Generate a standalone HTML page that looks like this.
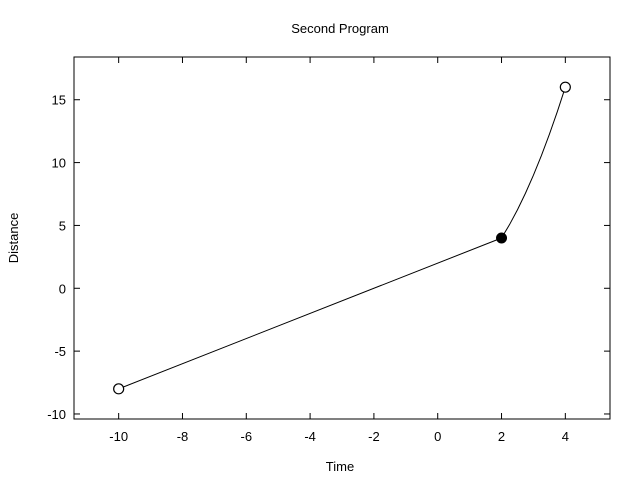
<!DOCTYPE html>
<html><head><meta charset="utf-8"><style>
body{margin:0;background:#fff;}
svg text{font-family:"Liberation Sans",sans-serif;font-size:13px;fill:#000;}
</style></head><body>
<svg id="chart" width="640" height="480" xmlns="http://www.w3.org/2000/svg">
<text x="340" y="33" text-anchor="middle">Second Program</text>
<text x="340" y="471" text-anchor="middle">Time</text>
<text transform="translate(18,238) rotate(-90)" text-anchor="middle">Distance</text>
<g id="plot"></g>
</svg>
<script>
const xTicks=[-10,-8,-6,-4,-2,0,2,4];
const yTicks=[-10,-5,0,5,10,15];
const lineX=[-10,2];
const lineY=[-8,4];
const curveX=[2,2.25,2.5,2.75,3,3.25,3.5,3.75,4];
const curveY=[4,5.06,6.25,7.56,9,10.56,12.25,14.06,16];
const openPts=[[-10,-8],[4,16]];
const filledPts=[[2,4]];
const xMin=-11.4,xMax=5.4,yMin=-10.4,yMax=18.4;
const L=74,R=610,T=57,B=419;
const sx=v=>L+(v-xMin)/(xMax-xMin)*(R-L);
const sy=v=>B-(v-yMin)/(yMax-yMin)*(B-T);
const NS="http://www.w3.org/2000/svg";
const g=document.getElementById('plot');
function mk(t,a){const e=document.createElementNS(NS,t);for(const k in a)e.setAttribute(k,a[k]);g.appendChild(e);return e;}
const frame=mk('rect',{x:L,y:T,width:R-L,height:B-T,fill:'none',stroke:'#000','stroke-width':1});


xTicks.forEach(v=>{const x=sx(v);
 const t1=mk('line',{x1:x,x2:x,y1:B,y2:B-6,stroke:'#000'});
 
 
 const t2=mk('line',{x1:x,x2:x,y1:T,y2:T+6,stroke:'#000'});
 
 
 const tx=mk('text',{x:x,y:B+22,'text-anchor':'middle'});tx.textContent=v;
 
 
});
yTicks.forEach(v=>{const y=sy(v);
 const t1=mk('line',{x1:L,x2:L+6,y1:y,y2:y,stroke:'#000'});
 
 
 const t2=mk('line',{x1:R,x2:R-6,y1:y,y2:y,stroke:'#000'});
 
 
 const tx=mk('text',{x:L-8,y:y+5,'text-anchor':'end'});tx.textContent=v;
 
 
});
const lp=mk('polyline',{points:lineX.map((x,i)=>sx(x)+','+sy(lineY[i])).join(' '),fill:'none',stroke:'#000','stroke-width':1});


const cp=mk('polyline',{points:curveX.map((x,i)=>sx(x)+','+sy(curveY[i])).join(' '),fill:'none',stroke:'#000','stroke-width':1});


openPts.forEach(p=>{const c=mk('circle',{cx:sx(p[0]),cy:sy(p[1]),r:5,fill:'#fff',stroke:'#000','stroke-width':1.2});
 
 });
filledPts.forEach(p=>{const c=mk('circle',{cx:sx(p[0]),cy:sy(p[1]),r:5,fill:'#000',stroke:'#000'});
 
 });
</script>
</body></html>
